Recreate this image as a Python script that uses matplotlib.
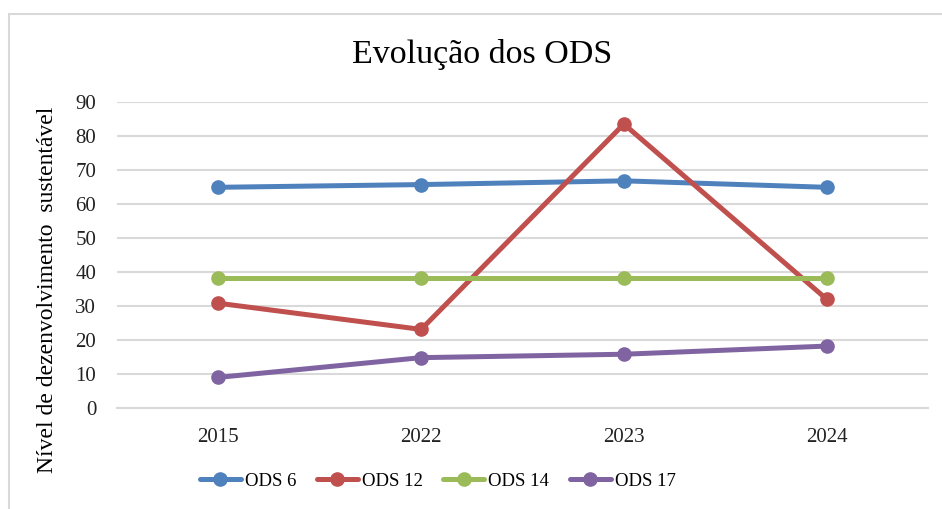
import matplotlib
matplotlib.use("Agg")
import matplotlib.pyplot as plt
from matplotlib.patches import Rectangle

categories = ["2015", "2022", "2023", "2024"]
ods6 = [65, 65.8, 66.9, 65]
ods12 = [30.9, 23.2, 83.6, 32.1]
ods14 = [38.2, 38.2, 38.2, 38.2]
ods17 = [9.1, 14.9, 15.9, 18.3]
series_names = ["ODS 6", "ODS 12", "ODS 14", "ODS 17"]
colors = ["#4f81bd", "#c0504d", "#9bbb59", "#8064a2"]
yticks = [0, 10, 20, 30, 40, 50, 60, 70, 80, 90]

plt.rcParams['font.family'] = ['Liberation Serif', 'DejaVu Serif']

W, H = 942, 509
fig = plt.figure(figsize=(W / 100, H / 100), dpi=100)

# chart border (top/left visible; picture cropped on right/bottom)
fig.patches.append(Rectangle((9 / W, -0.1), 1.2, 1 - 14 / H + 0.1,
                             transform=fig.transFigure, fill=False,
                             edgecolor="#d9d9d9", linewidth=1.5))

ax = fig.add_axes([117 / W, 1 - 408.3 / H, (928 - 117) / W, (408.3 - 102.3) / H])
x = list(range(len(categories)))
for vals, name, c in zip([ods6, ods12, ods14, ods17], series_names, colors):
    ax.plot(x, vals, color=c, linewidth=3.6, marker="o", markersize=9.5,
            label=name, solid_capstyle="round", zorder=3)

ax.set_xlim(-0.5, 3.5)
ax.set_ylim(0, 90)
ax.set_yticks(yticks)
ax.set_xticks(x)
ax.set_xticklabels(categories)
ax.yaxis.grid(True, color="#d9d9d9", linewidth=1.5)
ax.set_axisbelow(True)
for s in ["top", "right", "left"]:
    ax.spines[s].set_visible(False)
ax.spines["bottom"].set_color("#d9d9d9")
ax.spines["bottom"].set_linewidth(1.5)
ax.tick_params(axis="both", length=0, labelsize=15, colors="#222222")
ax.tick_params(axis="y", pad=15)
ax.tick_params(axis="x", pad=14)

fig.text(482.5 / W, 1 - 55 / H, "Evolução dos ODS", fontsize=24.5,
         ha="center", va="center", color="black")
fig.text(48 / W, 1 - 289.5 / H, "Nível de dezenvolvimento  sustentável", fontsize=17,
         rotation=90, ha="center", va="center", color="black")

handles, labels = ax.get_legend_handles_labels()
fig.legend(handles, labels, loc="center", bbox_to_anchor=(437.5 / W, 1 - 481 / H),
           ncol=4, frameon=False, fontsize=13.5, handlelength=2.2,
           handletextpad=0.2, columnspacing=1.1)

fig.savefig("out.png", dpi=100, facecolor="white")
